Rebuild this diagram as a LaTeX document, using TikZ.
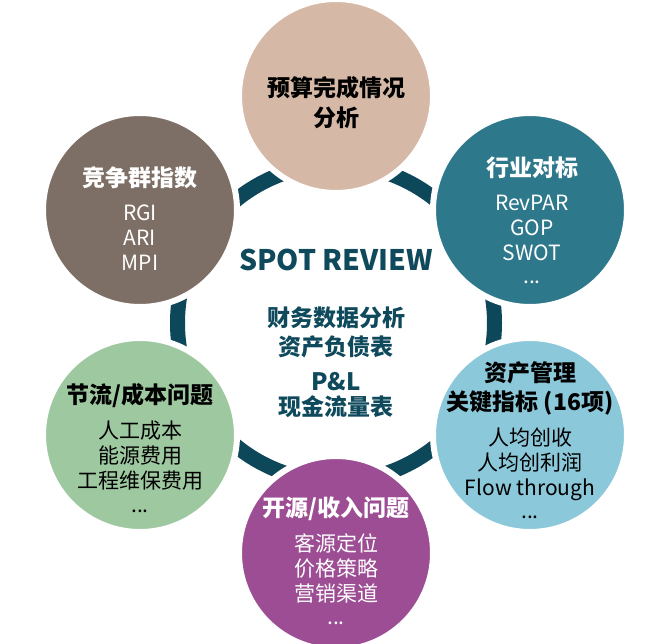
\documentclass[tikz,border=0pt]{standalone}
\usepackage{fontspec}
\setmainfont{Noto Sans CJK SC}
\definecolor{ringc}{HTML}{0D485A}
\definecolor{cenc}{HTML}{0F4A5C}
\definecolor{tanc}{HTML}{D5B9A6}
\definecolor{brownc}{HTML}{7D6F65}
\definecolor{tealc}{HTML}{2E788B}
\definecolor{bluec}{HTML}{8BC8DA}
\definecolor{purplec}{HTML}{9C4D94}
\definecolor{greenc}{HTML}{9EC8A0}
\begin{document}
\begin{tikzpicture}[x=1pt,y=-1pt,
  bub/.style={circle, minimum size=194pt, inner sep=0pt, draw=white, line width=6pt, fill=#1},
  ttl/.style={inner sep=0pt, font=\fontsize{23}{27}\selectfont\bfseries, text height=20.2pt, text depth=2.8pt},
  itm/.style={inner sep=0pt, font=\fontsize{21}{25}\selectfont, text height=18.5pt, text depth=2.5pt},
  big/.style={inner sep=0pt, font=\fontsize{28.3}{32}\selectfont\bfseries, text height=24.9pt, text depth=3.4pt, text=cenc},
  cen/.style={ttl, text=cenc}]
\useasboundingbox (0,0) rectangle (664,644);
\fill[white] (0,0) rectangle (664,644);
\coordinate (o) at (336,323);
\draw[ringc, line width=15pt] (o) circle[radius=158.5];

\node[bub=tanc] (top) at (336,96) {};
\node[bub=brownc] (lt) at (140,210) {};
\node[bub=tealc] (rt) at (530,210) {};
\node[bub=greenc] (lb) at (140,435) {};
\node[bub=bluec] (rb) at (530,435) {};
\node[bub=purplec] (bot) at (336,553) {};

% top
\node[ttl] (t1) at (336,88) {预算完成情况};
\node[ttl] (t2) at (336,118) {分析};

% left top
\node[ttl, text=white] (a0) at (140,178) {竞争群指数};
\node[itm, text=white] (a1) at (140,213) {RGI};
\node[itm, text=white] (a2) at (140,238) {ARI};
\node[itm, text=white] (a3) at (140,263) {MPI};

% right top
\node[ttl, text=white] (b0) at (532,168) {行业对标};
\node[itm, text=white] (b1) at (532,203) {RevPAR};
\node[itm, text=white] (b2) at (532,228) {GOP};
\node[itm, text=white] (b3) at (532,253) {SWOT};
\node[itm, text=white] (b4) at (532,276) {...};

% right bottom
\node[ttl] (c0) at (530,373) {资产管理};
\node[ttl] (c1) at (530,402) {关键指标 (16项)};
\node[itm] (c2) at (530,437) {人均创收};
\node[itm] (c3) at (530,462) {人均创利润};
\node[itm] (c4) at (530,487) {Flow through};
\node[itm] (c5) at (530,510) {...};

% left bottom
\node[ttl] (d0) at (140,395) {节流/成本问题};
\node[itm] (d1) at (140,430) {人工成本};
\node[itm] (d2) at (140,455) {能源费用};
\node[itm] (d3) at (140,480) {工程维保费用};
\node[itm] (d4) at (140,504) {...};

% bottom
\node[ttl, text=white] (e0) at (336,508) {开源/收入问题};
\node[itm, text=white] (e1) at (336,543) {客源定位};
\node[itm, text=white] (e2) at (336,568) {价格策略};
\node[itm, text=white] (e3) at (336,593) {营销渠道};
\node[itm, text=white] (e4) at (336,616) {...};

% centre
\node[big] (s0) at (336,260) {SPOT REVIEW};
\node[cen] (s1) at (336,318) {财务数据分析};
\node[cen] (s2) at (336,347) {资产负债表};
\node[cen, font=\fontsize{24}{28}\selectfont\bfseries] (s3) at (336,382) {P\&L};
\node[cen] (s4) at (336,407) {现金流量表};
\end{tikzpicture}
\end{document}
